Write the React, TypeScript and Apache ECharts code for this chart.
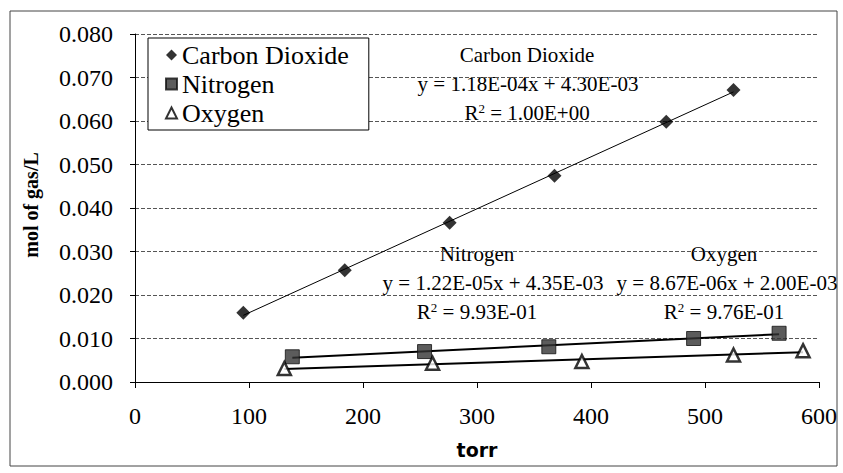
import React, { useEffect, useRef } from "react";
import * as echarts from "echarts";

const seriesNames = ["Carbon Dioxide", "Nitrogen", "Oxygen"];
const co2X = [95, 184, 276, 368, 466, 525];
const co2Y = [0.0159, 0.0257, 0.0366, 0.0474, 0.0598, 0.0671];
const n2X = [138, 254, 363, 490, 565];
const n2Y = [0.0058, 0.007, 0.0081, 0.01, 0.0112];
const o2X = [131, 261, 392, 525, 586];
const o2Y = [0.0031, 0.0043, 0.0047, 0.0062, 0.0072];

const co2Labels = ["Carbon Dioxide", "y = 1.18E-04x + 4.30E-03", "1.00E+00"];
const n2Labels = ["Nitrogen", "y = 1.22E-05x + 4.35E-03", "9.93E-01"];
const o2Labels = ["Oxygen", "y = 8.67E-06x + 2.00E-03", "9.76E-01"];

const SERIF = "Liberation Serif";

function pairs(xs: number[], ys: number[]) {
  return xs.map((x, i) => [x, ys[i]]);
}

function fitLine(xs: number[], ys: number[]) {
  const n = xs.length;
  const mx = xs.reduce((a, b) => a + b, 0) / n;
  const my = ys.reduce((a, b) => a + b, 0) / n;
  let sxy = 0;
  let sxx = 0;
  for (let i = 0; i < n; i++) {
    sxy += (xs[i] - mx) * (ys[i] - my);
    sxx += (xs[i] - mx) * (xs[i] - mx);
  }
  const m = sxy / sxx;
  const b = my - m * mx;
  const x0 = Math.min(...xs);
  const x1 = Math.max(...xs);
  return [
    [x0, m * x0 + b],
    [x1, m * x1 + b],
  ];
}

function annotation(labels: string[], cx: number, cxEq: number, cy: number) {
  const base = {
    fill: "#000",
    fontFamily: SERIF,
    fontSize: 21,
    align: "center",
    verticalAlign: "middle",
  };
  return [
    { type: "text", x: cx, y: cy, style: { ...base, text: labels[0] } },
    { type: "text", x: cxEq, y: cy + 29, style: { ...base, text: labels[1] } },
    {
      type: "text",
      x: cx,
      y: cy + 58,
      style: {
        ...base,
        text: `{n|R}{s|2}{n| = ${labels[2]}}`,
        rich: {
          n: { fontSize: 21, fontFamily: SERIF, fill: "#000", lineHeight: 22 },
          s: { fontSize: 13, fontFamily: SERIF, fill: "#000", verticalAlign: "top", lineHeight: 12 },
        },
      },
    },
  ];
}

export default function App() {
  const ref = useRef<HTMLDivElement>(null);
  useEffect(() => {
    if (!ref.current) return;
    const chart = echarts.init(ref.current, null, { renderer: "svg" });
    const trendStyle = (w: number) => ({
      type: "line",
      symbol: "none",
      silent: true,
      z: 1,
      lineStyle: { color: "#000", width: w },
    });
    chart.setOption({
      animation: false,
      backgroundColor: "#fff",
      textStyle: { fontFamily: SERIF, color: "#000" },
      grid: { left: 135, right: 24, top: 34, bottom: 91 },
      legend: {
        data: seriesNames,
        orient: "vertical",
        left: 148,
        top: 38,
        itemGap: 3,
        itemWidth: 11,
        itemHeight: 11,
        padding: [4, 20, 4, 17],
        backgroundColor: "#fff",
        borderColor: "#000",
        borderWidth: 1,
        borderRadius: 0,
        textStyle: { fontFamily: SERIF, fontSize: 26, color: "#000", lineHeight: 25 },
      },
      xAxis: {
        type: "value",
        min: 0,
        max: 600,
        interval: 100,
        name: "torr",
        nameLocation: "middle",
        nameGap: 58,
        nameTextStyle: { fontFamily: "DejaVu Sans", fontWeight: "bold", fontSize: 19, color: "#000" },
        axisLine: { lineStyle: { color: "#000", width: 1 } },
        axisTick: { show: true, length: 6, lineStyle: { color: "#000" } },
        axisLabel: { fontFamily: SERIF, fontSize: 24, color: "#000", margin: 22 },
        splitLine: { show: false },
      },
      yAxis: {
        type: "value",
        min: 0,
        max: 0.08,
        interval: 0.01,
        axisLine: { show: true, lineStyle: { color: "#000", width: 1 } },
        axisTick: { show: true, length: 5, lineStyle: { color: "#000" } },
        axisLabel: {
          fontFamily: SERIF,
          fontSize: 24,
          color: "#000",
          margin: 22,
          formatter: (v: number) => v.toFixed(3),
        },
        splitLine: { show: true, lineStyle: { color: "#555", type: [4, 2], width: 1 } },
      },
      series: [
        {
          name: seriesNames[0],
          type: "scatter",
          symbol: "diamond",
          symbolSize: 14,
          z: 3,
          itemStyle: { color: "#000" },
          data: pairs(co2X, co2Y),
        },
        {
          name: seriesNames[1],
          type: "scatter",
          symbol: "rect",
          symbolSize: 14,
          z: 3,
          itemStyle: { color: "#333", borderColor: "#111", borderWidth: 1 },
          data: pairs(n2X, n2Y),
        },
        {
          name: seriesNames[2],
          type: "scatter",
          symbol: "triangle",
          symbolSize: 13,
          z: 3,
          itemStyle: { color: "#fff", borderColor: "#000", borderWidth: 2.5 },
          data: pairs(o2X, o2Y),
        },
        { ...trendStyle(1), name: "co2fit", data: fitLine(co2X, co2Y) },
        { ...trendStyle(2), name: "n2fit", data: fitLine(n2X, n2Y) },
        { ...trendStyle(2), name: "o2fit", data: fitLine(o2X, o2Y) },
      ],
      graphic: [
        {
          type: "rect",
          shape: { x: 10, y: 11, width: 827, height: 455 },
          style: { fill: "none", stroke: "#444", lineWidth: 1 },
          silent: true,
          z: -1,
        },
        {
          type: "text",
          x: 31,
          y: 205,
          rotation: Math.PI / 2,
          style: {
            text: "mol of gas/L",
            fontFamily: SERIF,
            fontWeight: "bold",
            fontSize: 20,
            fill: "#000",
            align: "center",
            verticalAlign: "middle",
          },
        },
        ...annotation(co2Labels, 527, 528, 55),
        ...annotation(n2Labels, 477, 493, 254),
        ...annotation(o2Labels, 724, 727, 254),
      ],
    });
    return () => chart.dispose();
  }, []);
  return (
    <div
      ref={ref}
      style={{ position: "absolute", left: 0, top: 0, width: 843, height: 473 }}
    />
  );
}
